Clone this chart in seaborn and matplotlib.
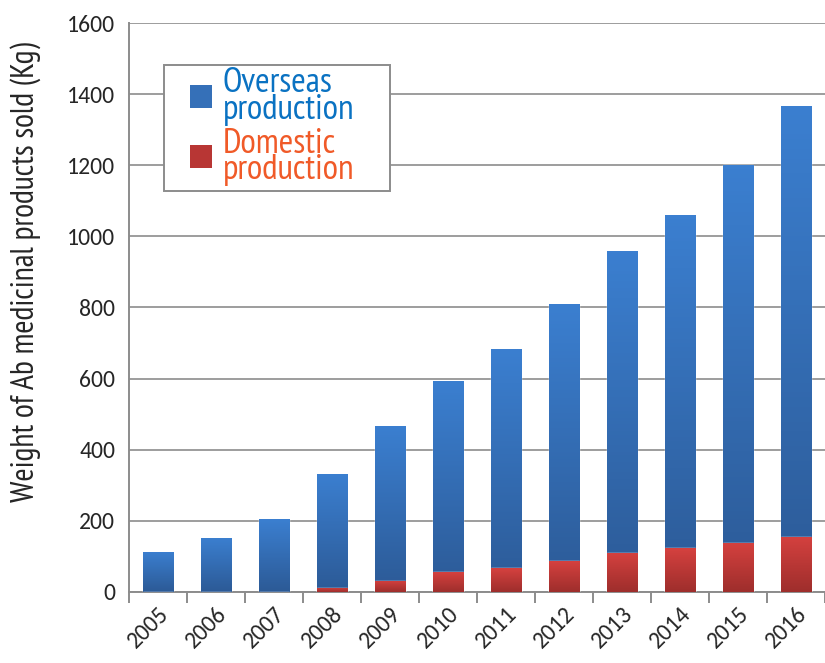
import numpy as np
import pandas as pd
import matplotlib.pyplot as plt
import seaborn as sns
from matplotlib.patches import Patch, Rectangle
from matplotlib.colors import LinearSegmentedColormap

years = ["2005", "2006", "2007", "2008", "2009", "2010", "2011", "2012", "2013", "2014", "2015", "2016"]
total = [113, 153, 205, 333, 467, 594, 683, 810, 959, 1060, 1200, 1367]
domestic = [0, 0, 0, 12, 32, 55, 67, 87, 110, 123, 139, 155]
overseas = [t - d for t, d in zip(total, domestic)]

df = pd.DataFrame({"year": years, "total": total, "domestic": domestic, "overseas": overseas})

sns.set_style("white")
plt.rcParams["font.family"] = ["Carlito", "DejaVu Sans"]
narrow = ["PT Sans Narrow", "DejaVu Sans"]

fig = plt.figure(figsize=(8.25, 6.63), dpi=100)
ax = fig.add_axes([0.1564, 0.1071, 0.8436, 0.8582])

# stacked bars: overseas on top of domestic, drawn as total then domestic
sns.barplot(data=df, x="year", y="total", color="#3a78c6", width=0.52, saturation=1, ax=ax, zorder=3)
n_top = len(ax.patches)
sns.barplot(data=df, x="year", y="domestic", color="#c83c3a", width=0.52, saturation=1, ax=ax, zorder=4)

# excel-like vertical gradient fill
blue_cm = LinearSegmentedColormap.from_list("b", ["#2c5a96", "#3b7fd0"])
red_cm = LinearSegmentedColormap.from_list("r", ["#9e2e2c", "#d5413f"])
grad = np.linspace(0, 1, 100).reshape(-1, 1)
for i, p in enumerate(ax.patches):
    h = p.get_height()
    if h <= 0:
        continue
    cm = blue_cm if i < n_top else red_cm
    x0, w = p.get_x(), p.get_width()
    im = ax.imshow(grad, cmap=cm, origin="lower", aspect="auto",
                   extent=[x0, x0 + w, 0, h], zorder=p.get_zorder())
    im.set_clip_path(p)
    p.set_facecolor("none")

ax.set_xlim(-0.5, len(years) - 0.5)
ax.set_ylim(0, 1600)
ax.set_yticks(range(0, 1601, 200))
ax.grid(axis="y", color="#8c8c8c", linewidth=1.2, zorder=0)
ax.set_axisbelow(True)

for s in ["top", "right"]:
    ax.spines[s].set_visible(False)
for s in ["left", "bottom"]:
    ax.spines[s].set_color("#8c8c8c")
    ax.spines[s].set_linewidth(1.4)

# category boundary ticks on x
ax.set_xticks(np.arange(-0.5, len(years), 1.0), minor=True)
ax.tick_params(axis="x", which="minor", length=8, width=1.4, color="#8c8c8c", bottom=True)
ax.tick_params(axis="x", which="major", length=0, labelsize=17, pad=8)
ax.tick_params(axis="y", length=0, labelsize=17, pad=10)
plt.setp(ax.get_xticklabels(), rotation=45, ha="right", rotation_mode="anchor")

ax.set_xlabel("")
ax.set_ylabel("Weight of Ab medicinal products sold (Kg)", fontsize=23, family=narrow)
ax.yaxis.set_label_coords(-0.127, 0.562)

# legend box drawn separately so the padding can match
box = Rectangle((0.05, 0.705), 0.325, 0.221, transform=ax.transAxes, facecolor="white",
                edgecolor="#8c8c8c", linewidth=1.4, zorder=9)
ax.add_patch(box)

handles = [Patch(facecolor="#3570b8", edgecolor="none"), Patch(facecolor="#b83634", edgecolor="none")]
leg = ax.legend(handles, ["Overseas\nproduction", "Domestic\nproduction"],
                loc="upper left", bbox_to_anchor=(0.087, 0.922),
                frameon=False, prop={"family": narrow, "size": 25.5},
                handlelength=0.62, handleheight=0.62, handletextpad=0.32,
                borderpad=0, borderaxespad=0, labelspacing=0.05)
leg.set_zorder(10)
for t, c in zip(leg.get_texts(), ["#0a72c2", "#f05a28"]):
    t.set_color(c)
    t.set_linespacing(0.78)

fig.savefig("out.png", dpi=100)
